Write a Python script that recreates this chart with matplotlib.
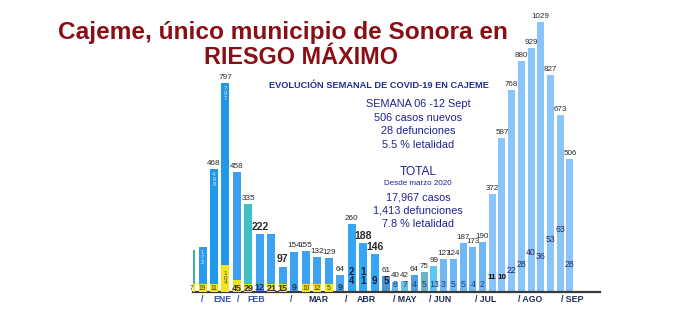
import matplotlib
matplotlib.use("Agg")
import matplotlib.pyplot as plt

# ---------------- data ----------------
# left block (Dec 2020 - early May 2021)
left_cases = [160, 172, 468, 797, 458, 335, 222, 222, 97, 154, 155, 132, 129, 64, 260, 188, 146, 61]
left_show_top = [False, False, True, True, True, True, True, False, True, True, True, True, True, True, True, True, True, True]
left_bold_top = [False, False, False, False, False, False, True, False, True, False, False, False, False, False, False, True, True, False]
left_inner = ["", "172", "468", "797", "", "", "", "", "", "", "", "", "", "", "", "", "", ""]
left_deaths = ["7", "19", "11", "104", "45", "29", "12", "21", "15", "9", "10", "12", "5", "9", "24", "11", "9", "5"]
left_yellow = [True, True, True, True, True, True, False, True, True, False, True, True, True, False, False, False, False, False]
left_colors = ["#3cb49c", "#2a9bf0", "#1f98ea", "#1f98ea", "#3c9ff0", "#40bfc4", "#3ea2f2", "#3ea2f2",
               "#3ea2f2", "#3ea2f2", "#3ea2f2", "#3ea2f2", "#3ea2f2", "#4aa6ee", "#35a6f6", "#35a6f6",
               "#35a6f6", "#4b94d2"]

# right block (May - Sep 2021)
right_cases = [40, 42, 64, 75, 99, 127, 124, 187, 173, 190, 372, 587, 768, 880, 929, 1029, 827, 673, 506]
right_deaths = [8, 7, 4, 5, 13, 3, 5, 5, 4, 2, 11, 10, 22, 28, 40, 36, 53, 63, 28]
right_scaled_deaths = [False] * 10 + [True] * 9
right_colors = ["#6db6f2", "#62c2e8", "#4f9fe2", "#6cb2c8", "#5cc6f4", "#6fb8f5", "#6fb8f5", "#6fb8f5",
                "#6fb8f5", "#6fb8f5", "#8ac4fa", "#8ac4fa", "#8ac4fa", "#8ac4fa", "#8ac4fa", "#8ac4fa",
                "#8ac4fa", "#8ac4fa", "#8ac4fa"]

left_month_pos = [1, 2.7, 4.1, 5.66, 8.7, 11.07, 13.5, 15.25]
left_month_lbl = ["/", "ENE", "/", "FEB", "/", "MAR", "/", "ABR"]
left_month_col = ["#2c4fb0", "#2c4fb0", "#2c4fb0", "#2c4fb0", "#2c4fb0", "#1d2b4f", "#1d2b4f", "#1d2b4f"]
right_month_pos = [1.0, 4.6, 9.3, 13.9, 18.2]
right_month_lbl = ["/ MAY", "/ JUN", "/ JUL", "/ AGO", "/ SEP"]

title1 = "Cajeme, único municipio de Sonora en"
title2 = "RIESGO MÁXIMO"
subtitle = "EVOLUCIÓN SEMANAL DE COVID-19 EN CAJEME"
week_lines = ["SEMANA 06 -12 Sept", "506 casos nuevos", "28 defunciones", "5.5 % letalidad"]
total_head = "TOTAL"
total_sub = "Desde marzo 2020"
total_lines = ["17,967 casos", "1,413 defunciones", "7.8 % letalidad"]

# ---------------- figure ----------------
W, H = 673, 310
fig = plt.figure(figsize=(W / 100, H / 100), dpi=100)
fig.patch.set_facecolor("white")
plt.rcParams["font.family"] = ["Liberation Sans", "DejaVu Sans"]

YMAX = 1100
base_px = 292
ax_h_px = 270 * YMAX / 1029

# left axes geometry: bar i centre at 214 + 11.47*(i-2)
lstep = 11.47
l_x0, l_x1 = 0.15, 17.5
l_left_px = 214 + lstep * (l_x0 - 2)
l_right_px = 214 + lstep * (l_x1 - 2)
axL = fig.add_axes([l_left_px / W, (H - base_px) / H, (l_right_px - l_left_px) / W, ax_h_px / H])

rstep = 9.72
r_x0, r_x1 = -0.35, 21.1
r_left_px = 395 + rstep * r_x0
r_right_px = 395 + rstep * r_x1
axR = fig.add_axes([r_left_px / W, (H - base_px) / H, (r_right_px - r_left_px) / W, ax_h_px / H])

for ax in (axL, axR):
    ax.set_ylim(0, YMAX)
    ax.set_facecolor("none")
    for s in ("top", "right", "left"):
        ax.spines[s].set_visible(False)
    ax.spines["bottom"].set_color("#3a3a3a")
    ax.spines["bottom"].set_linewidth(1.6)
    ax.set_yticks([])
    ax.tick_params(axis="x", length=0, pad=2)

axL.set_xlim(l_x0, l_x1)
axR.set_xlim(r_x0, r_x1)

# ---- left bars ----
xl = list(range(len(left_cases)))
axL.bar(xl, left_cases, width=0.7, color=left_colors, zorder=2)
for i, v in enumerate(left_cases):
    if left_yellow[i]:
        d = int(left_deaths[i])
        yh = max(d, 30)
        axL.bar(i, yh, width=0.7, color="#f3e51c", zorder=3)
        if d >= 100:
            axL.text(i, yh / 2, "\n".join(left_deaths[i]), ha="center", va="center",
                     fontsize=4.5, color="#444444", linespacing=0.9, zorder=4)
        else:
            big = d in (45, 29, 21, 15)
            axL.text(i, 14, left_deaths[i], ha="center", va="center",
                     fontsize=6.5 if big else 4.8, fontweight="bold" if big else "normal",
                     color="#333333", zorder=4)
    else:
        txt = left_deaths[i]
        if i >= 14:
            txt = "\n".join(txt)
            axL.text(i, 22, txt, ha="center", va="bottom", fontsize=7, fontweight="bold",
                     color="#14213f", linespacing=0.95, zorder=4)
        else:
            axL.text(i, 16, txt, ha="center", va="center", fontsize=6.5,
                     fontweight="bold", color="#22324f", zorder=4)
    if left_show_top[i]:
        axL.text(i, v + 8, str(v), ha="center", va="bottom",
                 fontsize=7.5 if left_bold_top[i] else 5.9,
                 fontweight="bold" if left_bold_top[i] else "normal",
                 color="#2a2a2a", zorder=4)
    if left_inner[i]:
        axL.text(i, v - 12, "\n".join(left_inner[i]), ha="center", va="top", fontsize=4.2,
                 color="#dce9ff", linespacing=1.0, zorder=4)

axL.set_xticks(left_month_pos)
axL.set_xticklabels(left_month_lbl, fontsize=6.3, fontweight="bold")
for t, c in zip(axL.get_xticklabels(), left_month_col):
    t.set_color(c)

# ---- right bars ----
xr = list(range(len(right_cases)))
axR.bar(xr, right_cases, width=0.72, color=right_colors, zorder=2)
for j, v in enumerate(right_cases):
    axR.text(j, v + 8, str(v), ha="center", va="bottom", fontsize=5.8,
             color="#2a2a2a", zorder=4)
    d = right_deaths[j]
    if right_scaled_deaths[j]:
        bold = d in (11, 10)
        axR.text(j, d * 3.81 if not bold else 54, str(d), ha="center", va="center",
                 fontsize=5.9 if bold else 6.3, fontweight="bold" if bold else "normal",
                 color="#111111" if bold else "#1f2d5a", zorder=4)
    else:
        axR.text(j, 27, str(d), ha="center", va="center", fontsize=6.3,
                 color="#1f3f7a", zorder=4)

axR.set_xticks(right_month_pos)
axR.set_xticklabels(right_month_lbl, fontsize=6.3, fontweight="bold", color="#1d2b4f")

# ---- texts ----
def fx(px):
    return px / W

def fy(py):
    return 1 - py / H

red = "#8a0f14"
fig.text(fx(283), fy(32), title1, ha="center", va="center", fontsize=17.6,
         fontweight="bold", color=red)
fig.text(fx(301), fy(57), title2, ha="center", va="center", fontsize=16.8,
         fontweight="bold", color=red)
fig.text(fx(379), fy(85), subtitle, ha="center", va="center", fontsize=6.7,
         fontweight="bold", color="#1f2f94")

navy = "#1c2290"
for k, line in enumerate(week_lines):
    fig.text(fx(418), fy(104 + k * 13.7), line, ha="center", va="center",
             fontsize=7.8, color=navy)
fig.text(fx(418), fy(172), total_head, ha="center", va="center", fontsize=8.6, color=navy)
fig.text(fx(418), fy(183.5), total_sub, ha="center", va="center", fontsize=5.8, color=navy)
for k, line in enumerate(total_lines):
    fig.text(fx(418), fy(197 + k * 13.7), line, ha="center", va="center",
             fontsize=7.8, color=navy)

fig.savefig("out.png", dpi=100, facecolor="white")
